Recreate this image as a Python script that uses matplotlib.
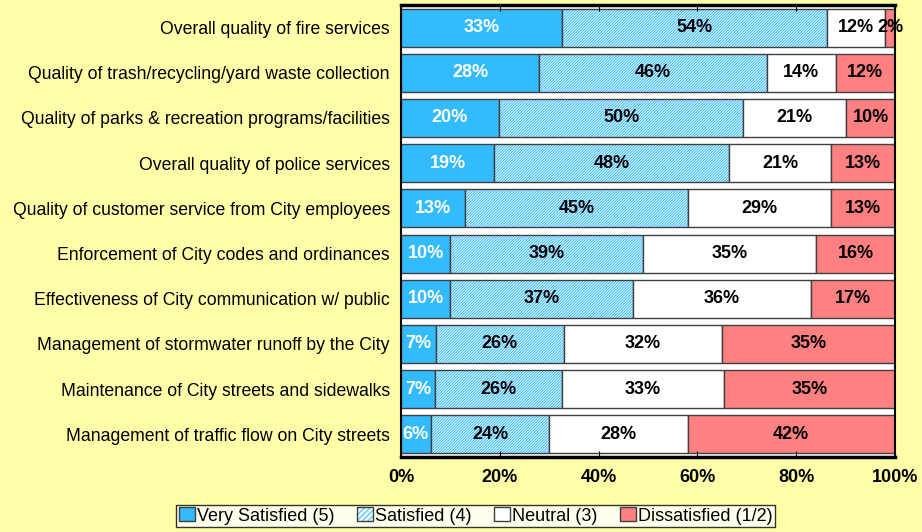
import numpy as np
import matplotlib.pyplot as plt
from matplotlib.patches import Patch

plt.rcParams['font.family'] = ['Liberation Sans', 'DejaVu Sans']
plt.rcParams['hatch.linewidth'] = 0.7

categories = [
    "Overall quality of fire services",
    "Quality of trash/recycling/yard waste collection",
    "Quality of parks & recreation programs/facilities",
    "Overall quality of police services",
    "Quality of customer service from City employees",
    "Enforcement of City codes and ordinances",
    "Effectiveness of City communication w/ public",
    "Management of stormwater runoff by the City",
    "Maintenance of City streets and sidewalks",
    "Management of traffic flow on City streets",
]
very_satisfied = [33, 28, 20, 19, 13, 10, 10, 7, 7, 6]
satisfied = [54, 46, 50, 48, 45, 39, 37, 26, 26, 24]
neutral = [12, 14, 21, 21, 29, 35, 36, 32, 33, 28]
dissatisfied = [2, 12, 10, 13, 13, 16, 17, 35, 35, 42]
series_names = ["Very Satisfied (5)", "Satisfied (4)", "Neutral (3)", "Dissatisfied (1/2)"]

raw = np.array([very_satisfied, satisfied, neutral, dissatisfied], dtype=float)
shares = raw / raw.sum(axis=0) * 100

fig = plt.figure(figsize=(9.22, 5.32), dpi=100, facecolor='#ffffaa')
ax = fig.add_axes([0.435, 0.141, 0.5357, 0.8496])
ax.set_facecolor('white')

y = np.arange(len(categories))
faces = ['#33bbff', '#eef9ff', 'white', '#ff8080']
hatch = '////////////'
txt_colors = ['white', 'black', 'black', 'black']
left = np.zeros(len(categories))
for i in range(4):
    if i == 1:
        # hatch drawn in blue, then outline on top
        ax.barh(y, shares[i], left=left, height=0.84, facecolor=faces[i],
                edgecolor='#33bbff', linewidth=0, hatch=hatch)
        bars = ax.barh(y, shares[i], left=left, height=0.84, facecolor='none',
                       edgecolor='#404040', linewidth=1.0)
    else:
        bars = ax.barh(y, shares[i], left=left, height=0.84, color=faces[i],
                       edgecolor='#404040', linewidth=1.0)
    for j, b in enumerate(bars):
        cx = left[j] + shares[i][j] / 2
        ax.text(cx, y[j], f"{int(raw[i][j])}%", ha='center', va='center',
                fontsize=13, fontweight='bold', color=txt_colors[i])
    left += shares[i]

ax.set_ylim(len(categories) - 0.5, -0.5)
ax.set_xlim(0, 100)
ax.set_yticks(y)
ax.set_yticklabels(categories, fontsize=12.7)
ax.tick_params(axis='y', length=0, pad=8)
ax.set_xticks(np.arange(0, 101, 20))
ax.set_xticklabels([f"{v}%" for v in range(0, 101, 20)], fontsize=13, fontweight='bold')
ax.tick_params(axis='x', direction='in', length=4, top=True, pad=9)
for s in ax.spines.values():
    s.set_color('black')
    s.set_linewidth(1.5)
ax.spines['bottom'].set_linewidth(2.5)
ax.spines['top'].set_linewidth(2.5)

handles = [
    Patch(facecolor=faces[0], edgecolor='#404040'),
    (Patch(facecolor=faces[1], edgecolor='#33bbff', linewidth=0, hatch='//////'),
     Patch(facecolor='none', edgecolor='#404040')),
    Patch(facecolor=faces[2], edgecolor='#404040'),
    Patch(facecolor=faces[3], edgecolor='#404040'),
]
leg = fig.legend(handles, series_names, loc='center', bbox_to_anchor=(0.516, 0.03),
                 ncol=4, fontsize=13, frameon=True, fancybox=False, edgecolor='black',
                 handlelength=0.9, handleheight=0.8, handletextpad=0.1, columnspacing=1.25,
                 borderpad=0.15)
leg.get_frame().set_facecolor('white')
leg.get_frame().set_linewidth(1.0)

fig.savefig('out.png', dpi=100, facecolor=fig.get_facecolor())
